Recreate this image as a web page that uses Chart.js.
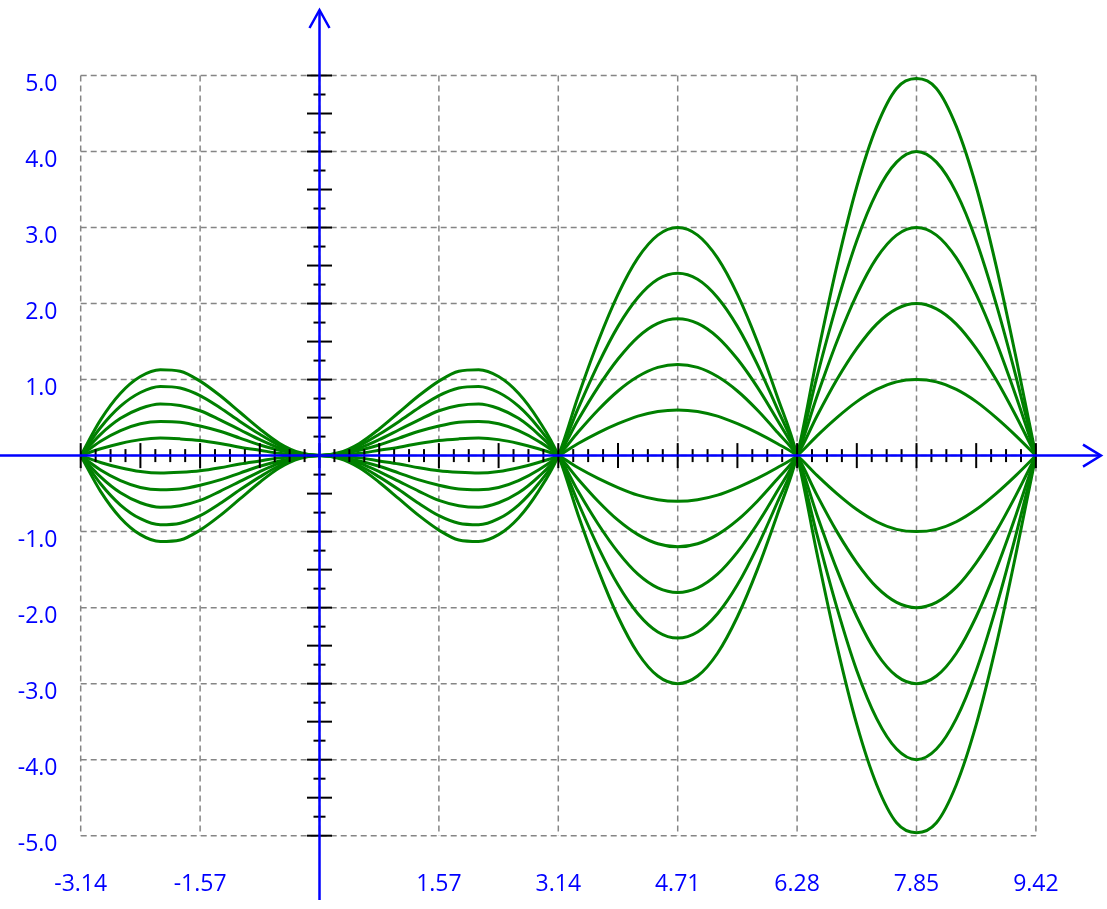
<!DOCTYPE html>
<html>
<head>
<meta charset="utf-8">
<title>Curvas</title>
<script src="https://cdn.jsdelivr.net/npm/chart.js@4.4.1/dist/chart.umd.min.js"></script>
<style>
  body { margin: 0; background: #fff; }
  canvas { display: block; }
</style>
</head>
<body>
<canvas id="miGrafico" width="1107" height="909"></canvas>
<script>
// Datos
const xValues = [-3.142, -2.880, -2.618, -2.356, -2.094, -1.833, -1.571, -1.309, -1.047, -0.785, -0.524, -0.262,
  0, 0.262, 0.524, 0.785, 1.047, 1.309, 1.571, 1.833, 2.094, 2.356, 2.618, 2.880, 3.142,
  3.403, 3.665, 3.927, 4.189, 4.451, 4.712, 4.974, 5.236, 5.498, 5.760, 6.021, 6.283,
  6.545, 6.807, 7.069, 7.330, 7.592, 7.854, 8.116, 8.378, 8.639, 8.901, 9.163, 9.425];

const curveP1 = [0, 0.09, 0.16, 0.21, 0.23, 0.22, 0.20, 0.16, 0.11, 0.07, 0.03, 0.01, 0, 0.01, 0.03, 0.07, 0.11, 0.16, 0.20, 0.22, 0.23, 0.21, 0.16, 0.09, 0,
  -0.16, -0.30, -0.42, -0.52, -0.58, -0.60, -0.58, -0.52, -0.42, -0.30, -0.16, 0,
  0.26, 0.50, 0.71, 0.87, 0.97, 1.00, 0.97, 0.87, 0.71, 0.50, 0.26, 0];
const curveP2 = [0, 0.19, 0.33, 0.42, 0.45, 0.44, 0.39, 0.32, 0.23, 0.14, 0.07, 0.02, 0, 0.02, 0.07, 0.14, 0.23, 0.32, 0.39, 0.44, 0.45, 0.42, 0.33, 0.19, 0,
  -0.31, -0.60, -0.85, -1.04, -1.16, -1.20, -1.16, -1.04, -0.85, -0.60, -0.31, 0,
  0.52, 1.00, 1.41, 1.73, 1.93, 2.00, 1.93, 1.73, 1.41, 1.00, 0.52, 0];
const curveP3 = [0, 0.28, 0.49, 0.62, 0.68, 0.66, 0.59, 0.47, 0.34, 0.21, 0.10, 0.03, 0, 0.03, 0.10, 0.21, 0.34, 0.47, 0.59, 0.66, 0.68, 0.62, 0.49, 0.28, 0,
  -0.47, -0.90, -1.27, -1.56, -1.74, -1.80, -1.74, -1.56, -1.27, -0.90, -0.47, 0,
  0.78, 1.50, 2.12, 2.60, 2.90, 3.00, 2.90, 2.60, 2.12, 1.50, 0.78, 0];
const curveP4 = [0, 0.37, 0.65, 0.83, 0.91, 0.89, 0.79, 0.63, 0.45, 0.28, 0.13, 0.03, 0, 0.03, 0.13, 0.28, 0.45, 0.63, 0.79, 0.89, 0.91, 0.83, 0.65, 0.37, 0,
  -0.62, -1.20, -1.70, -2.08, -2.32, -2.40, -2.32, -2.08, -1.70, -1.20, -0.62, 0,
  1.04, 2.00, 2.83, 3.46, 3.86, 4.00, 3.86, 3.46, 2.83, 2.00, 1.04, 0];
const curveP5 = [0, 0.47, 0.82, 1.04, 1.13, 1.11, 0.98, 0.79, 0.57, 0.35, 0.16, 0.04, 0, 0.04, 0.16, 0.35, 0.57, 0.79, 0.98, 1.11, 1.13, 1.04, 0.82, 0.47, 0,
  -0.78, -1.50, -2.12, -2.60, -2.90, -3.00, -2.90, -2.60, -2.12, -1.50, -0.78, 0,
  1.29, 2.50, 3.54, 4.33, 4.83, 4.96, 4.83, 4.33, 3.54, 2.50, 1.29, 0];

const curveN1 = [0, -0.09, -0.16, -0.21, -0.23, -0.22, -0.20, -0.16, -0.11, -0.07, -0.03, -0.01, 0, -0.01, -0.03, -0.07, -0.11, -0.16, -0.20, -0.22, -0.23, -0.21, -0.16, -0.09, 0,
  0.16, 0.30, 0.42, 0.52, 0.58, 0.60, 0.58, 0.52, 0.42, 0.30, 0.16, 0,
  -0.26, -0.50, -0.71, -0.87, -0.97, -1.00, -0.97, -0.87, -0.71, -0.50, -0.26, 0];
const curveN2 = [0, -0.19, -0.33, -0.42, -0.45, -0.44, -0.39, -0.32, -0.23, -0.14, -0.07, -0.02, 0, -0.02, -0.07, -0.14, -0.23, -0.32, -0.39, -0.44, -0.45, -0.42, -0.33, -0.19, 0,
  0.31, 0.60, 0.85, 1.04, 1.16, 1.20, 1.16, 1.04, 0.85, 0.60, 0.31, 0,
  -0.52, -1.00, -1.41, -1.73, -1.93, -2.00, -1.93, -1.73, -1.41, -1.00, -0.52, 0];
const curveN3 = [0, -0.28, -0.49, -0.62, -0.68, -0.66, -0.59, -0.47, -0.34, -0.21, -0.10, -0.03, 0, -0.03, -0.10, -0.21, -0.34, -0.47, -0.59, -0.66, -0.68, -0.62, -0.49, -0.28, 0,
  0.47, 0.90, 1.27, 1.56, 1.74, 1.80, 1.74, 1.56, 1.27, 0.90, 0.47, 0,
  -0.78, -1.50, -2.12, -2.60, -2.90, -3.00, -2.90, -2.60, -2.12, -1.50, -0.78, 0];
const curveN4 = [0, -0.37, -0.65, -0.83, -0.91, -0.89, -0.79, -0.63, -0.45, -0.28, -0.13, -0.03, 0, -0.03, -0.13, -0.28, -0.45, -0.63, -0.79, -0.89, -0.91, -0.83, -0.65, -0.37, 0,
  0.62, 1.20, 1.70, 2.08, 2.32, 2.40, 2.32, 2.08, 1.70, 1.20, 0.62, 0,
  -1.04, -2.00, -2.83, -3.46, -3.86, -4.00, -3.86, -3.46, -2.83, -2.00, -1.04, 0];
const curveN5 = [0, -0.47, -0.82, -1.04, -1.13, -1.11, -0.98, -0.79, -0.57, -0.35, -0.16, -0.04, 0, -0.04, -0.16, -0.35, -0.57, -0.79, -0.98, -1.11, -1.13, -1.04, -0.82, -0.47, 0,
  0.78, 1.50, 2.12, 2.60, 2.90, 3.00, 2.90, 2.60, 2.12, 1.50, 0.78, 0,
  -1.29, -2.50, -3.54, -4.33, -4.83, -4.96, -4.83, -4.33, -3.54, -2.50, -1.29, 0];

// Marcas de los ejes
const xTickValues = [-3.1416, -1.5708, 1.5708, 3.1416, 4.7124, 6.2832, 7.854, 9.4248];
const xTickLabels = ['-3.14', '-1.57', '1.57', '3.14', '4.71', '6.28', '7.85', '9.42'];
const xGridValues = [-3.1416, -1.5708, 0, 1.5708, 3.1416, 4.7124, 6.2832, 7.854, 9.4248];
const yTickValues = [5, 4, 3, 2, 1, -1, -2, -3, -4, -5];
const yTickLabels = ['5.0', '4.0', '3.0', '2.0', '1.0', '-1.0', '-2.0', '-3.0', '-4.0', '-5.0'];
const yGridValues = [5, 4, 3, 2, 1, 0, -1, -2, -3, -4, -5];

const allCurves = [curveP5, curveP4, curveP3, curveP2, curveP1, curveN1, curveN2, curveN3, curveN4, curveN5];

const AZUL = '#0000ff';
const VERDE = '#008000';

// Plugin para rejilla, ejes con flechas y marcas
const ejesPlugin = {
    id: 'ejes',
    beforeDatasetsDraw(chart) {
        const { ctx, chartArea: a, scales: { x, y } } = chart;
        ctx.save();
        ctx.strokeStyle = '#858585';
        ctx.lineWidth = 1.5;
        ctx.setLineDash([6, 4]);
        yGridValues.forEach(v => {
            const py = y.getPixelForValue(v);
            ctx.beginPath();
            ctx.moveTo(a.left, py);
            ctx.lineTo(a.right, py);
            ctx.stroke();
        });
        xGridValues.forEach(v => {
            const px = x.getPixelForValue(v);
            ctx.beginPath();
            ctx.moveTo(px, a.top);
            ctx.lineTo(px, a.bottom);
            ctx.stroke();
        });
        ctx.restore();
    },
    afterDatasetsDraw(chart) {
        const { ctx, chartArea: a, scales: { x, y } } = chart;
        const x0 = x.getPixelForValue(0);
        const y0 = y.getPixelForValue(0);
        ctx.save();

        // marcas negras
        ctx.strokeStyle = '#000';
        ctx.lineWidth = 2;
        const pasoX = Math.PI / 16;
        for (let i = -16; i <= 48; i++) {
            const px = x.getPixelForValue(i * pasoX);
            const h = (i % 4 === 0) ? 12.5 : 6.5;
            ctx.beginPath();
            ctx.moveTo(px, y0 - h);
            ctx.lineTo(px, y0 + h);
            ctx.stroke();
        }
        for (let j = -20; j <= 20; j++) {
            const py = y.getPixelForValue(j * 0.25);
            const w = (j % 2 === 0) ? 12.5 : 6;
            ctx.beginPath();
            ctx.moveTo(x0 - w, py);
            ctx.lineTo(x0 + w, py);
            ctx.stroke();
        }

        // ejes azules
        ctx.strokeStyle = AZUL;
        ctx.lineWidth = 2.5;
        ctx.beginPath();
        ctx.moveTo(0, y0);
        ctx.lineTo(chart.width - 6, y0);
        ctx.moveTo(x0, chart.height - 9);
        ctx.lineTo(x0, 10);
        ctx.stroke();

        // flechas
        const tipX = chart.width - 6;
        ctx.beginPath();
        ctx.moveTo(tipX - 18, y0 - 11);
        ctx.lineTo(tipX, y0);
        ctx.lineTo(tipX - 18, y0 + 11);
        ctx.moveTo(x0 - 10, 28);
        ctx.lineTo(x0, 10);
        ctx.lineTo(x0 + 10, 28);
        ctx.stroke();

        // etiquetas
        ctx.fillStyle = AZUL;
        ctx.font = '23px "Open Sans", "Noto Sans", sans-serif';
        ctx.textBaseline = 'middle';
        ctx.textAlign = 'right';
        yTickValues.forEach((v, i) => {
            ctx.fillText(yTickLabels[i], 57.5, y.getPixelForValue(v) + 9);
        });
        ctx.textAlign = 'center';
        xTickValues.forEach((v, i) => {
            ctx.fillText(xTickLabels[i], x.getPixelForValue(v), a.bottom + 49);
        });
        ctx.restore();
    }
};

document.addEventListener('DOMContentLoaded', function() {
    const ctx = document.getElementById('miGrafico').getContext('2d');
    new Chart(ctx, {
        type: 'line',
        data: {
            datasets: allCurves.map(ys => ({
                data: ys.map((v, i) => ({ x: xValues[i], y: v })),
                borderColor: VERDE,
                borderWidth: 3,
                pointRadius: 0,
                fill: false,
                cubicInterpolationMode: 'monotone'
            }))
        },
        options: {
            responsive: false,
            animation: false,
            layout: {
                padding: { left: 80.7, right: 71.1, top: 75.5, bottom: 73.3 }
            },
            plugins: {
                legend: { display: false },
                tooltip: { enabled: false }
            },
            scales: {
                x: { type: 'linear', min: -Math.PI, max: 3 * Math.PI, display: false },
                y: { min: -5, max: 5, display: false }
            }
        },
        plugins: [ejesPlugin]
    });
});
</script>
</body>
</html>
